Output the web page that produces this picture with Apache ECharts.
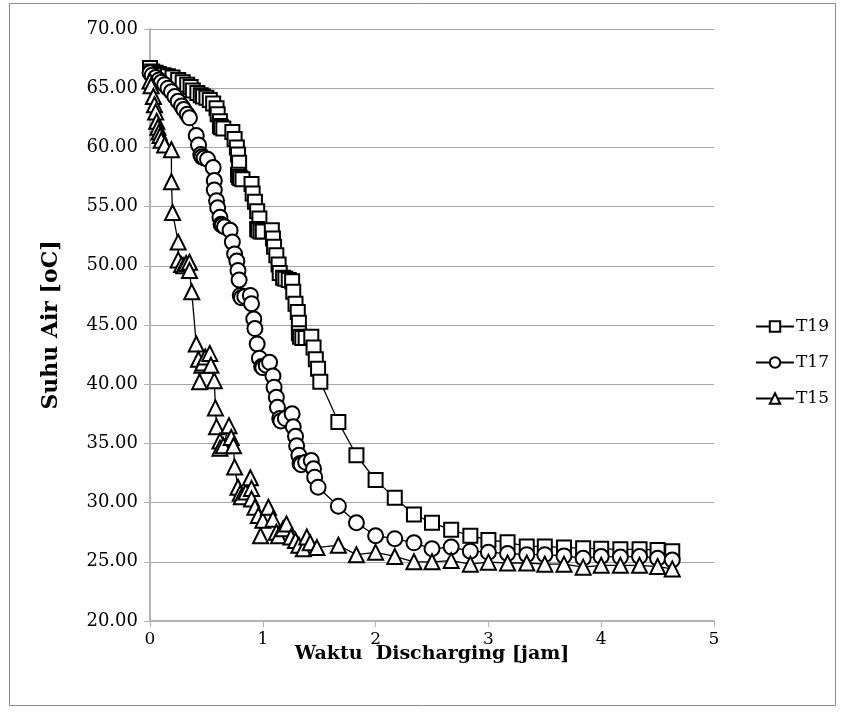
<!DOCTYPE html>
<html>
<head>
<meta charset="utf-8">
<script src="https://cdn.jsdelivr.net/npm/echarts@6/dist/echarts.min.js"></script>
<style>
  html, body { margin: 0; padding: 0; background: #fff; }
  #chart { width: 845px; height: 717px; }
</style>
</head>
<body>
<div id="chart"></div>
<script>
// waktu [jam], suhu [oC]
var t19 = [
  [0,66.7],[0.02,66.4],[0.05,66.3],[0.08,66.2],[0.12,66.1],[0.16,66.0],[0.2,65.9],[0.25,65.7],
  [0.29,65.5],[0.33,65.3],[0.36,65.1],[0.38,64.8],[0.42,64.6],[0.45,64.4],[0.47,64.3],[0.5,64.2],
  [0.53,64.0],[0.56,63.7],[0.59,63.3],[0.6,62.8],[0.62,62.2],[0.62,61.8],[0.63,61.7],[0.65,61.6],
  [0.73,61.3],[0.75,60.7],[0.77,60.0],[0.78,59.4],[0.79,58.7],[0.78,57.7],[0.79,57.5],[0.8,57.4],
  [0.82,57.3],[0.9,56.9],[0.91,56.1],[0.93,55.4],[0.95,54.6],[0.97,54.0],[0.95,53.1],[0.96,53.0],
  [0.98,52.9],[1.0,52.9],[1.08,53.0],[1.09,52.3],[1.1,51.6],[1.12,50.9],[1.14,50.1],[1.15,49.4],
  [1.18,49.0],[1.2,48.9],[1.23,48.8],[1.26,48.7],[1.27,47.8],[1.29,46.8],[1.31,46.1],[1.32,45.2],
  [1.32,44.3],[1.33,44.0],[1.35,43.9],[1.38,43.9],[1.43,44.0],[1.45,43.1],[1.47,42.1],[1.49,41.3],
  [1.51,40.2],[1.67,36.8],[1.83,34.0],[2.0,31.9],[2.17,30.4],[2.34,29.0],[2.5,28.3],[2.67,27.7],
  [2.84,27.2],[3.0,26.85],[3.17,26.65],[3.34,26.3],[3.5,26.3],[3.67,26.2],[3.84,26.15],[4.0,26.1],
  [4.17,26.05],[4.34,26.05],[4.5,26.0],[4.63,25.9]
];
var t17 = [
  [0,66.3],[0.02,66.1],[0.05,65.9],[0.08,65.7],[0.1,65.5],[0.13,65.3],[0.16,65.0],[0.19,64.7],
  [0.22,64.3],[0.25,63.9],[0.28,63.5],[0.3,63.2],[0.33,62.8],[0.35,62.5],[0.41,61.0],[0.43,60.2],
  [0.45,59.4],[0.46,59.2],[0.48,59.1],[0.51,59.0],[0.56,58.3],[0.57,57.2],[0.57,56.4],[0.59,55.5],
  [0.6,54.9],[0.62,54.1],[0.63,53.5],[0.64,53.4],[0.66,53.3],[0.71,53.0],[0.73,52.0],[0.75,51.0],
  [0.77,50.4],[0.78,49.6],[0.79,48.8],[0.8,47.5],[0.81,47.3],[0.84,47.4],[0.89,47.5],[0.9,46.8],
  [0.92,45.5],[0.93,44.7],[0.95,43.4],[0.97,42.2],[0.99,41.5],[1.0,41.4],[1.03,41.6],[1.06,41.85],
  [1.09,40.7],[1.1,39.75],[1.12,38.9],[1.13,38.05],[1.15,37.1],[1.16,36.9],[1.2,37.1],[1.26,37.5],
  [1.27,36.4],[1.29,35.6],[1.3,34.8],[1.32,34.0],[1.33,33.3],[1.34,33.2],[1.38,33.4],[1.43,33.55],
  [1.45,32.85],[1.46,32.15],[1.49,31.3],[1.67,29.7],[1.83,28.3],[2.0,27.2],[2.17,26.95],[2.34,26.6],
  [2.5,26.1],[2.67,26.25],[2.84,25.9],[3.0,25.8],[3.17,25.7],[3.34,25.6],[3.5,25.6],[3.67,25.5],
  [3.84,25.3],[4.0,25.45],[4.17,25.4],[4.34,25.45],[4.5,25.3],[4.63,25.15]
];
var t15 = [
  [0,65.6],[0.01,65.2],[0.03,64.3],[0.04,63.6],[0.05,63.0],[0.06,62.2],[0.07,61.7],[0.08,61.3],
  [0.09,61.0],[0.1,60.6],[0.13,60.2],[0.19,59.8],[0.19,57.1],[0.2,54.5],[0.25,52.0],[0.25,50.5],
  [0.28,50.1],[0.3,50.0],[0.32,50.2],[0.35,50.3],[0.35,49.6],[0.37,47.8],[0.41,43.4],[0.43,42.1],
  [0.44,40.2],[0.46,41.6],[0.47,41.8],[0.49,42.3],[0.53,42.6],[0.54,41.6],[0.57,40.3],[0.58,38.0],
  [0.59,36.4],[0.62,35.2],[0.62,34.6],[0.65,34.8],[0.7,36.5],[0.72,35.5],[0.74,34.8],[0.75,33.0],
  [0.78,31.3],[0.8,30.8],[0.81,30.5],[0.85,30.9],[0.89,32.1],[0.9,31.2],[0.9,30.3],[0.93,29.6],
  [0.96,28.9],[0.98,27.2],[1.0,28.5],[1.05,29.6],[1.09,28.6],[1.12,27.5],[1.14,27.2],[1.18,27.8],
  [1.21,28.2],[1.25,27.1],[1.29,26.8],[1.32,26.4],[1.36,26.1],[1.39,27.1],[1.42,26.6],[1.48,26.2],
  [1.67,26.4],[1.83,25.6],[2.0,25.8],[2.17,25.45],[2.34,25.0],[2.5,25.0],[2.67,25.1],[2.84,24.8],
  [3.0,24.97],[3.17,24.9],[3.34,24.9],[3.5,24.8],[3.67,24.8],[3.84,24.55],[4.0,24.7],[4.17,24.7],
  [4.34,24.7],[4.5,24.6],[4.63,24.4]
];
var seriesNames = ['T19', 'T17', 'T15'];
var symbols = ['rect', 'circle', 'triangle'];

var font = '"DejaVu Serif", "Liberation Serif", serif';
var chart = echarts.init(document.getElementById('chart'));

function mkSeries(name, data, sym, size) {
  return {
    name: name,
    type: 'line',
    data: data,
    symbol: sym,
    symbolSize: size,
    showAllSymbol: true,
    color: '#000',
    lineStyle: { color: '#000', width: 1.3 },
    itemStyle: { color: '#fff', borderColor: '#000', borderWidth: 2 }
  };
}

var option = {
  animation: false,
  backgroundColor: '#fff',
  graphic: [{
    type: 'rect',
    shape: { x: 9.5, y: 3.5, width: 826, height: 702 },
    style: { fill: 'none', stroke: '#8c8c8c', lineWidth: 1 },
    silent: true
  }],
  grid: { left: 150, right: 131, top: 29, bottom: 96 },
  legend: {
    orient: 'vertical',
    left: 750,
    top: 313,
    itemGap: 19,
    itemWidth: 38,
    itemHeight: 13,
    data: seriesNames,
    textStyle: { fontFamily: font, fontSize: 17, color: '#000', padding: [0, 0, 0, -3] }
  },
  xAxis: {
    type: 'value',
    min: 0, max: 5, interval: 1,
    name: 'Waktu  Discharging [jam]',
    nameLocation: 'middle',
    nameGap: 24,
    nameMoveOverlap: false,
    nameTextStyle: { fontFamily: font, fontSize: 19, fontWeight: 'bold', color: '#000' },
    axisLine: { lineStyle: { color: '#b3b3b3', width: 2 } },
    axisTick: { show: true, length: 6, lineStyle: { color: '#b3b3b3', width: 1 } },
    axisLabel: { fontFamily: font, fontSize: 17, color: '#000', margin: 10 },
    splitLine: { show: false }
  },
  yAxis: {
    type: 'value',
    min: 20, max: 70, interval: 5,
    name: 'Suhu Air [oC]',
    nameLocation: 'middle',
    nameGap: 88,
    nameMoveOverlap: false,
    nameTextStyle: { fontFamily: font, fontSize: 22, fontWeight: 'bold', color: '#000' },
    axisLine: { show: true, lineStyle: { color: '#b3b3b3', width: 2 } },
    axisTick: { show: true, length: 6, lineStyle: { color: '#b3b3b3', width: 1 } },
    axisLabel: {
      fontFamily: font, fontSize: 18, color: '#000', margin: 12,
      formatter: function (v) { return v.toFixed(2); }
    },
    splitLine: { show: true, lineStyle: { color: '#a6a6a6', width: 1 } }
  },
  series: [
    mkSeries(seriesNames[0], t19, symbols[0], 14),
    mkSeries(seriesNames[1], t17, symbols[1], 15),
    mkSeries(seriesNames[2], t15, symbols[2], 15)
  ]
};

chart.setOption(option);
</script>
</body>
</html>
